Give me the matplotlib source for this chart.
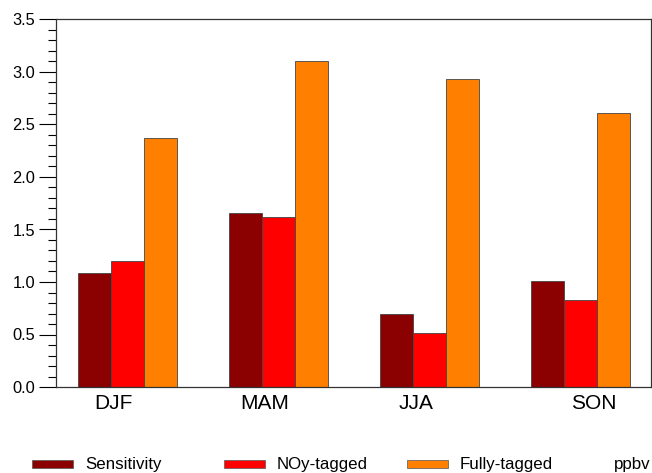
import numpy as np
import matplotlib.pyplot as plt
from matplotlib.patches import Rectangle
from matplotlib.ticker import MultipleLocator

plt.rcParams['font.family'] = ['Liberation Sans', 'DejaVu Sans']

# data
seasons = ["DJF", "MAM", "JJA", "SON"]
sensitivity = [1.086, 1.654, 0.698, 1.01]
noy_tagged = [1.20, 1.616, 0.511, 0.829]
fully_tagged = [2.371, 3.10, 2.933, 2.607]
series_names = ["Sensitivity", "NOy-tagged", "Fully-tagged"]
colors = ["#8b0000", "#ff0000", "#ff8000"]
label_shift = [-0.096, -0.09, -0.09, 0.086]

fig = plt.figure(figsize=(6.52, 4.73), dpi=100)
ax = fig.add_axes([56/652, 86/473, 595/652, 367.5/473])

x = np.arange(len(seasons))
w = 0.2166
for k, vals in enumerate([sensitivity, noy_tagged, fully_tagged]):
    ax.bar(x + (k - 1) * w, vals, w, color=colors[k], edgecolor="#444444", linewidth=0.6)

ax.set_xlim(-0.4735, 3.467)
ax.set_ylim(0, 3.5)
ax.yaxis.set_major_locator(MultipleLocator(0.5))
ax.yaxis.set_minor_locator(MultipleLocator(0.1))
ax.yaxis.set_major_formatter(plt.FormatStrFormatter("%.1f"))
ax.tick_params(axis="y", which="major", length=12, width=0.8, labelsize=11.8, direction="out", pad=3)
ax.tick_params(axis="y", which="minor", length=6, width=0.8, direction="out")
ax.set_xticks(x + np.array(label_shift))
ax.set_xticklabels(seasons, fontsize=15)
ax.tick_params(axis="x", length=0, pad=5)
for s in ax.spines.values():
    s.set_linewidth(0.9)
    s.set_color("#333333")

# legend along the bottom
patch_x = [32, 224, 407]
for k in range(3):
    fig.add_artist(Rectangle((patch_x[k]/652, (473-468)/473), 41/652, 8/473,
                             transform=fig.transFigure, facecolor=colors[k],
                             edgecolor="#555555", linewidth=0.5))
    fig.text((patch_x[k] + 53)/652, (473-464)/473, series_names[k], fontsize=12.2, va="center")
fig.text(614/652, (473-464)/473, "ppbv", fontsize=12.2, va="center")

fig.savefig("out.png", dpi=100)
